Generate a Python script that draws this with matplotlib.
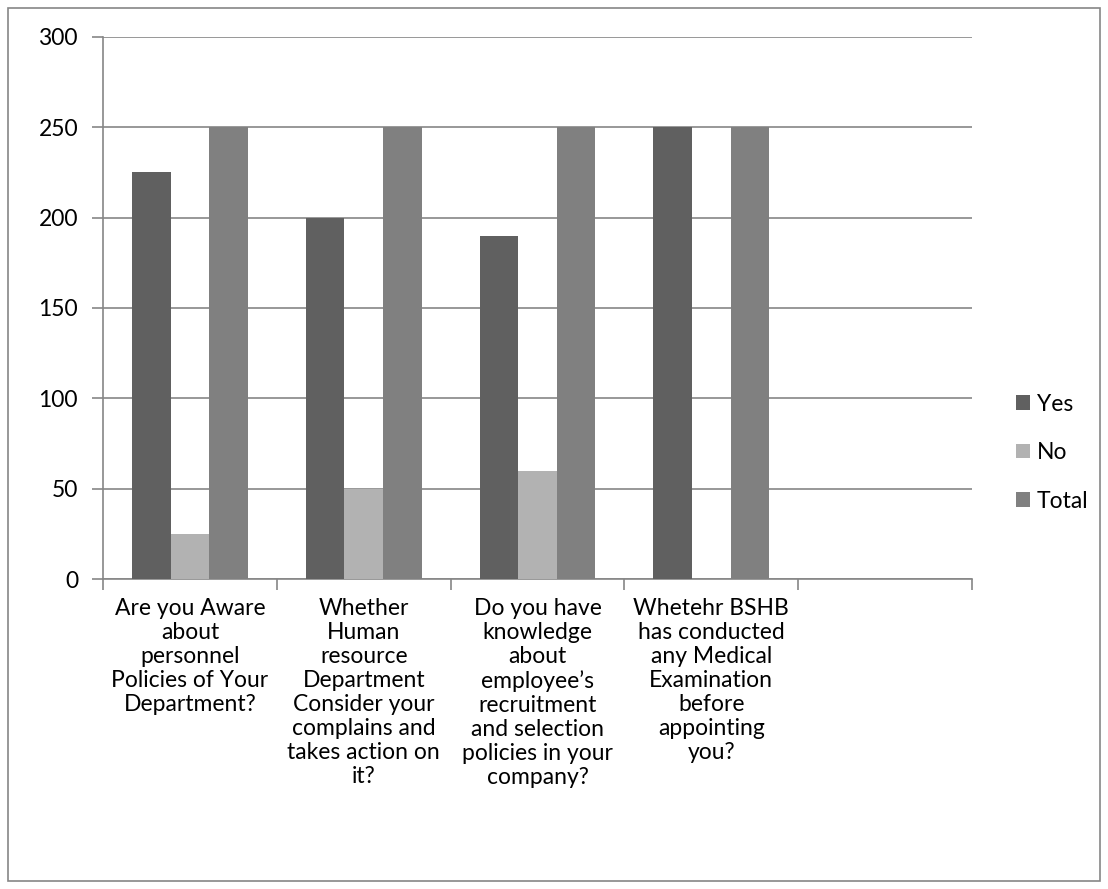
import numpy as np
import matplotlib.pyplot as plt
from matplotlib.patches import Rectangle

plt.rcParams['font.family'] = ['Lato', 'DejaVu Sans']

categories = ["Are you Aware\nabout\npersonnel\nPolicies of Your\nDepartment?",
              "Whether\nHuman\nresource\nDepartment\nConsider your\ncomplains and\ntakes action on\nit?",
              "Do you have\nknowledge\nabout\nemployee\u2019s\nrecruitment\nand selection\npolicies in your\ncompany?",
              "Whetehr BSHB\nhas conducted\nany Medical\nExamination\nbefore\nappointing\nyou?",
              ""]
yes = [225, 200, 190, 250, 0]
no = [25, 50, 60, 0, 0]
total = [250, 250, 250, 250, 0]
series = ["Yes", "No", "Total"]
colors = ["#606060", "#b2b2b2", "#808080"]

fig = plt.figure(figsize=(11.08, 8.89), dpi=100)
ax = fig.add_axes([103/1108, 1-579/889, (972-103)/1108, (579-37)/889])

# outer chart border
fig.patches.append(Rectangle((8/1108, 8/889), 1092/1108, 873/889, transform=fig.transFigure,
                             fill=False, edgecolor='#868686', linewidth=1.2))

x = np.arange(len(categories))
w = 0.222
for i, (vals, name, c) in enumerate(zip([yes, no, total], series, colors)):
    ax.bar(x + (i-1)*w, vals, w, color=c, label=name, zorder=3)

ax.set_xlim(-0.5, len(categories)-0.5)
ax.set_ylim(0, 300)
ax.set_yticks(range(0, 301, 50))
ax.yaxis.grid(True, color='#868686', linewidth=1.2, zorder=0)
ax.set_xticks(np.arange(-0.5, len(categories)), minor=False)
ax.set_xticklabels([])
ax.set_xticks(x, minor=True)
ax.set_xticklabels(categories, minor=True, fontsize=16.5, linespacing=1.17)
ax.tick_params(axis='x', which='minor', length=0, pad=14)
ax.tick_params(axis='x', which='major', length=8, color='#868686', width=1.2)
ax.tick_params(axis='y', length=8, color='#868686', width=1.2, labelsize=16.5, pad=10)
for s in ['top', 'right']:
    ax.spines[s].set_visible(False)
for s in ['left', 'bottom']:
    ax.spines[s].set_color('#868686')
    ax.spines[s].set_linewidth(1.2)

ax.legend(loc='center left', bbox_to_anchor=(1.027, 0.233), frameon=False, fontsize=16.5,
          handlelength=0.6, handleheight=0.6, handletextpad=0.3, labelspacing=1.2)

fig.savefig('out.png', dpi=100)
